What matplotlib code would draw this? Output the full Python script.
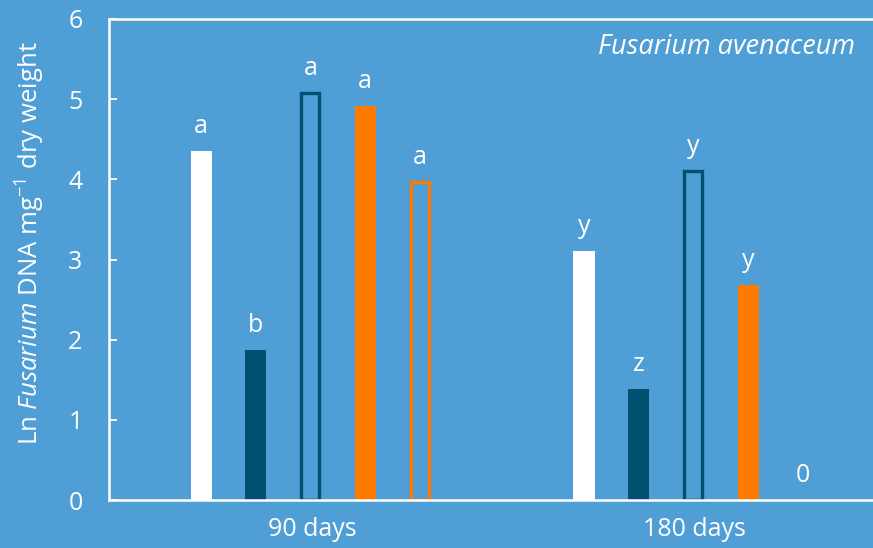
import matplotlib
matplotlib.use("Agg")
import matplotlib.pyplot as plt
import numpy as np

groups = ["90 days", "180 days"]
treatments = ["white", "dark", "dark_open", "orange", "orange_open"]
values_90 = [4.35, 1.87, 5.08, 4.92, 3.97]
values_180 = [3.11, 1.38, 4.10, 2.68, 0.0]
letters_90 = ["a", "b", "a", "a", "a"]
letters_180 = ["y", "z", "y", "y", "0"]
yticks = [0, 1, 2, 3, 4, 5, 6]

BG = "#4F9ED6"
DARK = "#00506F"
ORANGE = "#FF7A00"
WHITE = "#FFFFFF"

styles = {
    "white": dict(fill=WHITE, edge=None),
    "dark": dict(fill=DARK, edge=None),
    "dark_open": dict(fill=None, edge=DARK),
    "orange": dict(fill=ORANGE, edge=None),
    "orange_open": dict(fill=None, edge=ORANGE),
}

plt.rcParams['font.family'] = ['Open Sans', 'DejaVu Sans']
plt.rcParams['mathtext.fontset'] = 'custom'
plt.rcParams['mathtext.rm'] = 'Open Sans'
plt.rcParams['mathtext.it'] = 'Open Sans:italic'
FS = 18

fig = plt.figure(figsize=(8.73, 5.48), dpi=100, facecolor=BG)
ax = fig.add_axes([109/873, 48/548, 1 - 109/873, 481/548])
ax.set_facecolor(BG)

spacing = 0.1428
w_fill = 0.055
w_open = 0.047
for gi, vals, lets in [(0, values_90, letters_90), (1, values_180, letters_180)]:
    for k, (t, v, l) in enumerate(zip(treatments, vals, lets)):
        x = gi + (k - 2) * spacing - 0.004
        st = styles[t]
        if v > 0:
            if st["fill"] is not None:
                ax.bar(x, v, width=w_fill, color=st["fill"], linewidth=0, zorder=3)
            else:
                ax.bar(x, v, width=w_open, facecolor="none", edgecolor=st["edge"],
                       linewidth=2.4, zorder=3)
        ax.annotate(l, (x, v), xytext=(0, 13), textcoords="offset points",
                    ha="center", va="baseline", color="white", fontsize=FS, zorder=4)

ax.set_xlim(-0.530, 1.465)
ax.set_ylim(0, 6)
ax.set_yticks(yticks)
ax.set_xticks([0, 1])
ax.set_xticklabels(groups)
ax.tick_params(axis="y", direction="in", length=6, width=1.3, colors="white",
               labelsize=FS, pad=19)
ax.tick_params(axis="x", length=0, colors="white", labelsize=FS, pad=12)
for s in ["left", "top", "bottom"]:
    ax.spines[s].set_color("white")
    ax.spines[s].set_linewidth(1.8)
ax.spines["right"].set_visible(False)
ax.spines["bottom"].set_zorder(5)

fig.text(30/873, 1 - 243/548, r"Ln $\mathit{Fusarium}$ DNA mg$^{\mathrm{-1}}$ dry weight",
         rotation=90, ha="center", va="center", color="white", fontsize=18.5)
ax.text(855/873, 1 - 47/548, "Fusarium avenaceum", transform=fig.transFigure,
        ha="right", va="center", style="italic", color="white", fontsize=19.5)

fig.savefig("out.png", dpi=100, facecolor=BG)
